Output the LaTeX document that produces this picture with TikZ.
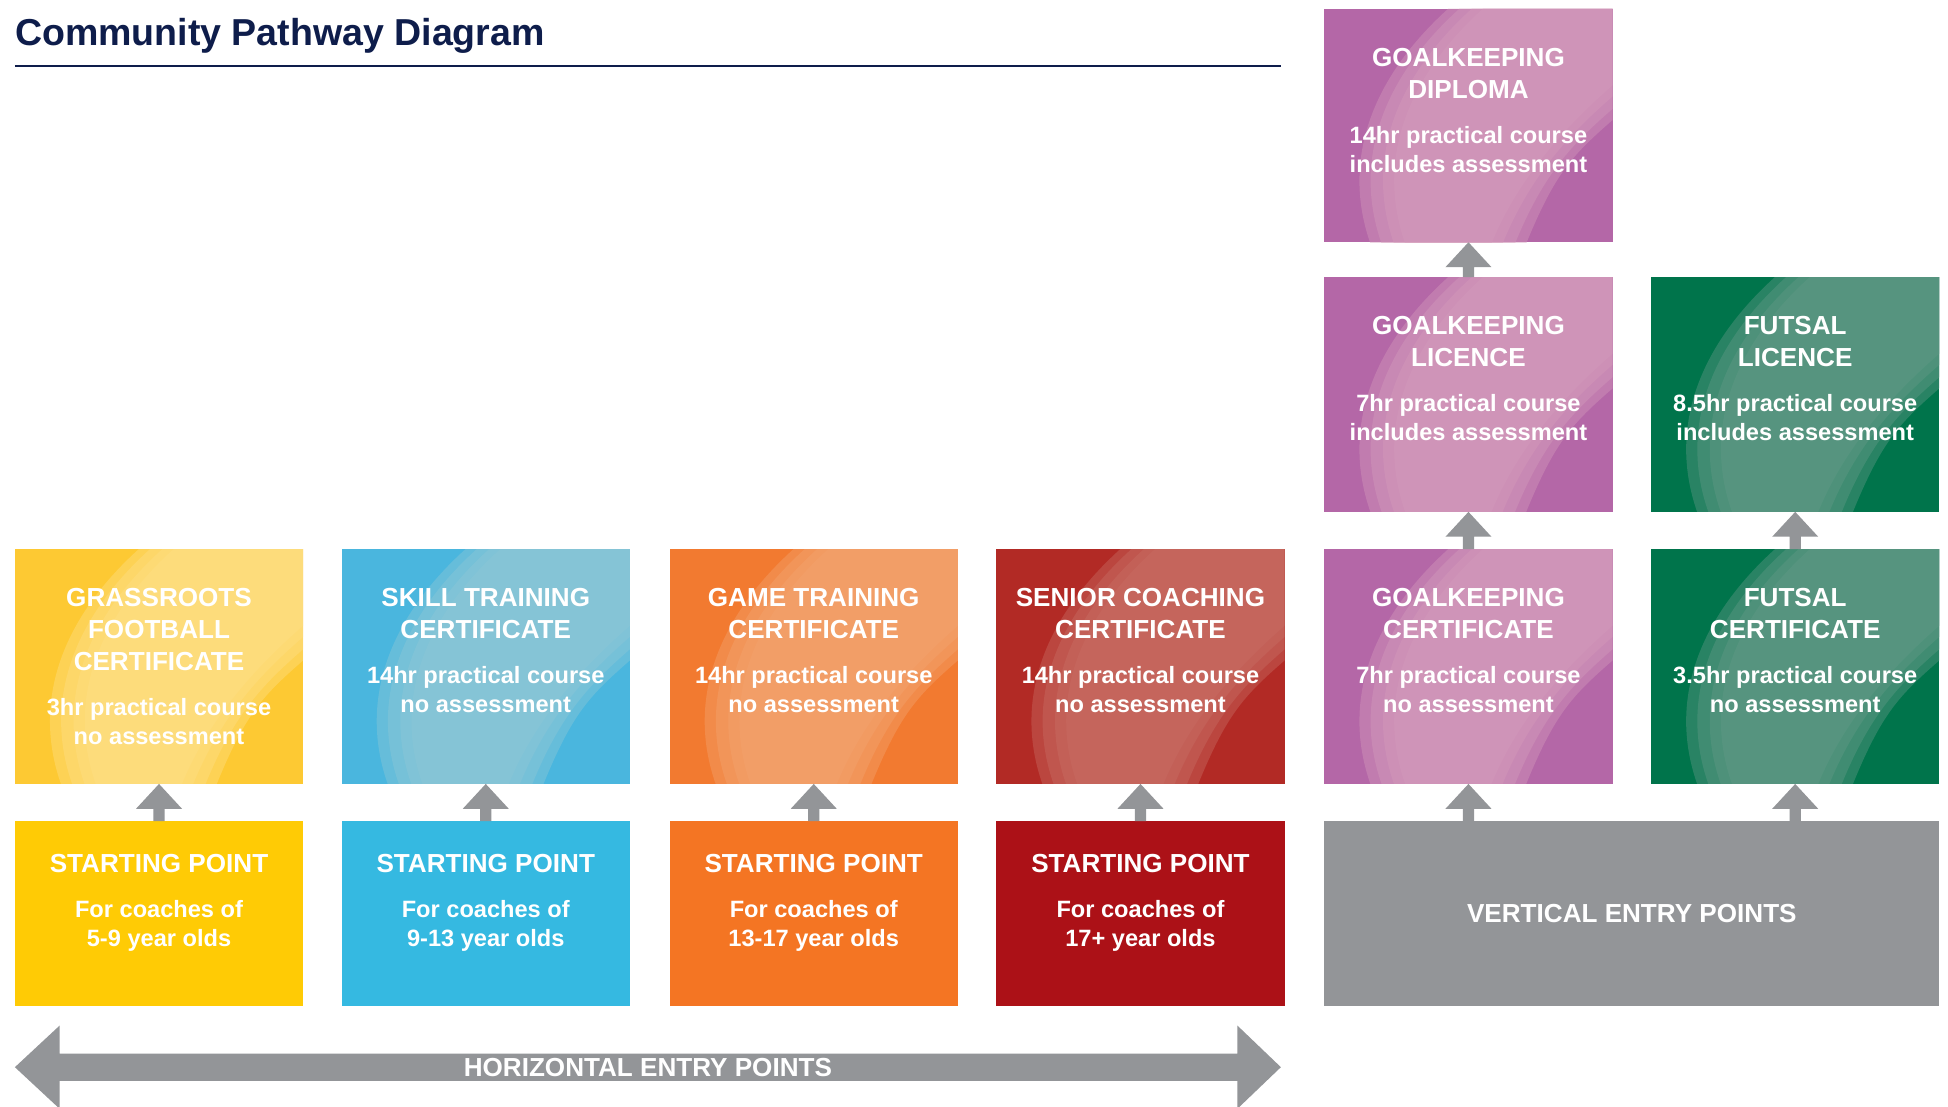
\documentclass[tikz,border=0pt]{standalone}
\usepackage{fontspec}
\setmainfont{Liberation Sans}
\usetikzlibrary{calc}
\definecolor{navy}{HTML}{0E1D4B}
\definecolor{agray}{HTML}{939598}
\definecolor{yl}{HTML}{FFCB05}
\definecolor{ylc}{HTML}{FDC933}
\definecolor{ylL}{HTML}{FFDF85}
\definecolor{bl}{HTML}{35B9E1}
\definecolor{blc}{HTML}{4AB6DE}
\definecolor{blL}{HTML}{8EC7D6}
\definecolor{orx}{HTML}{F47523}
\definecolor{orc}{HTML}{F27A30}
\definecolor{orL}{HTML}{F4A470}
\definecolor{rdx}{HTML}{AC1117}
\definecolor{rdc}{HTML}{B22A25}
\definecolor{rdL}{HTML}{C86E65}
\definecolor{pu}{HTML}{B467A7}
\definecolor{puL}{HTML}{D49BBB}
\definecolor{grn}{HTML}{00744B}
\definecolor{grL}{HTML}{629A87}
\newcommand\swpiece[3]{% node, colour, shift of the soft edge
  \fill[#2,opacity=0.42] ($(#1.north west)+(0.49*232+#3,0)$) -- (#1.north east)
    -- ($(#1.north west)+(232,0.40*189+#3)$)
    .. controls ($(#1.north west)+(0.86*232,0.55*189+#3)$) and ($(#1.north west)+(0.74*232+#3,0.7*189)$) .. ($(#1.north west)+(0.64*232+#3,189)$)
    -- ($(#1.north west)+(0.22*232+#3,189)$)
    .. controls ($(#1.north west)+(0.12*232+#3,0.65*189)$) and ($(#1.north west)+(0.22*232+#3,0.3*189)$) .. ($(#1.north west)+(0.49*232+#3,0)$) -- cycle;}
\newcommand\swoosh[2]{%
  \begin{scope}
  \clip (#1.north west) rectangle (#1.south east);
  \swpiece{#1}{#2}{-14}
  \swpiece{#1}{#2}{-5}
  \swpiece{#1}{#2}{5}
  \swpiece{#1}{#2}{14}
  \end{scope}}
\newcommand\uparr[2]{%
  \fill[agray] ($(#1)+(-4.5,0)$) -- ($(#2)+(-4.5,20)$) -- ($(#2)+(-18.5,20)$) -- (#2)
    -- ($(#2)+(18.5,20)$) -- ($(#2)+(4.5,20)$) -- ($(#1)+(4.5,0)$) -- cycle;}
\begin{document}
\begin{tikzpicture}[x=1pt,y=-1pt,
  box/.style={minimum width=232pt,minimum height=189pt,inner sep=0pt,outer sep=0pt,anchor=north west,draw=none},
  cert/.style={box,fill=#1},
  startbox/.style={box,minimum height=149pt,fill=#1},
  ttl/.style={text=white,font=\fontsize{21}{25.6}\selectfont\bfseries,align=center,inner sep=0pt,anchor=north},
  subtxt/.style={text=white,font=\fontsize{19}{23.5}\selectfont\bfseries,align=center,inner sep=0pt,anchor=north}]
\useasboundingbox[fill=white] (0,0) rectangle (1568,891);

% title
\node[anchor=base west,inner sep=0pt,text=navy,font=\fontsize{30.2}{36}\selectfont\bfseries] (title) at (12,37) {Community Pathway Diagram};
\draw[navy,line width=2pt] (12,53) -- (1031,53);

% certificate boxes
\node[cert=ylc] (gf) at (12,442) {};
\node[cert=blc] (st) at (275,442) {};
\node[cert=orc] (gt) at (539,442) {};
\node[cert=rdc] (sc) at (802,442) {};
\node[cert=pu] (gkc) at (1066,442) {};
\node[cert=grn] (fc) at (1329,442) {};
\node[cert=pu] (gkl) at (1066,223) {};
\node[cert=grn] (fl) at (1329,223) {};
\node[cert=pu,minimum height=188pt] (gkd) at (1066,7) {};
\swoosh{gf}{ylL}
\swoosh{st}{blL}
\swoosh{gt}{orL}
\swoosh{sc}{rdL}
\swoosh{gkc}{puL}
\swoosh{fc}{grL}
\swoosh{gkl}{puL}
\swoosh{fl}{grL}
\swoosh{gkd}{puL}

% starting points
\node[startbox=yl] (sp1) at (12,661) {};
\node[startbox=bl] (sp2) at (275,661) {};
\node[startbox=orx] (sp3) at (539,661) {};
\node[startbox=rdx] (sp4) at (802,661) {};
\node[startbox=agray,minimum width=495pt] (ve) at (1066,661) {};

% texts in certificate boxes
\node[ttl] (gf-t) at ($(gf.north)+(0,31.5)$) {GRASSROOTS\\FOOTBALL\\CERTIFICATE};
\node[subtxt] (gf-s) at ($(gf-t.south)+(0,22)$) {3hr practical course\\no assessment};
\node[ttl] (st-t) at ($(st.north)+(0,31.5)$) {SKILL TRAINING\\CERTIFICATE};
\node[subtxt] (st-s) at ($(st-t.south)+(0,22)$) {14hr practical course\\no assessment};
\node[ttl] (gt-t) at ($(gt.north)+(0,31.5)$) {GAME TRAINING\\CERTIFICATE};
\node[subtxt] (gt-s) at ($(gt-t.south)+(0,22)$) {14hr practical course\\no assessment};
\node[ttl] (sc-t) at ($(sc.north)+(0,31.5)$) {SENIOR COACHING\\CERTIFICATE};
\node[subtxt] (sc-s) at ($(sc-t.south)+(0,22)$) {14hr practical course\\no assessment};
\node[ttl] (gkc-t) at ($(gkc.north)+(0,31.5)$) {GOALKEEPING\\CERTIFICATE};
\node[subtxt] (gkc-s) at ($(gkc-t.south)+(0,22)$) {7hr practical course\\no assessment};
\node[ttl] (fc-t) at ($(fc.north)+(0,31.5)$) {FUTSAL\\CERTIFICATE};
\node[subtxt] (fc-s) at ($(fc-t.south)+(0,22)$) {3.5hr practical course\\no assessment};
\node[ttl] (gkl-t) at ($(gkl.north)+(0,31.5)$) {GOALKEEPING\\LICENCE};
\node[subtxt] (gkl-s) at ($(gkl-t.south)+(0,22)$) {7hr practical course\\includes assessment};
\node[ttl] (fl-t) at ($(fl.north)+(0,31.5)$) {FUTSAL\\LICENCE};
\node[subtxt] (fl-s) at ($(fl-t.south)+(0,22)$) {8.5hr practical course\\includes assessment};
\node[ttl] (gkd-t) at ($(gkd.north)+(0,31.5)$) {GOALKEEPING\\DIPLOMA};
\node[subtxt] (gkd-s) at ($(gkd-t.south)+(0,22)$) {14hr practical course\\includes assessment};

% texts in starting boxes
\node[ttl] (sp1-t) at ($(sp1.north)+(0,26.5)$) {STARTING POINT};
\node[subtxt] (sp1-s) at ($(sp1-t.south)+(0,22)$) {For coaches of\\5-9 year olds};
\node[ttl] (sp2-t) at ($(sp2.north)+(0,26.5)$) {STARTING POINT};
\node[subtxt] (sp2-s) at ($(sp2-t.south)+(0,22)$) {For coaches of\\9-13 year olds};
\node[ttl] (sp3-t) at ($(sp3.north)+(0,26.5)$) {STARTING POINT};
\node[subtxt] (sp3-s) at ($(sp3-t.south)+(0,22)$) {For coaches of\\13-17 year olds};
\node[ttl] (sp4-t) at ($(sp4.north)+(0,26.5)$) {STARTING POINT};
\node[subtxt] (sp4-s) at ($(sp4-t.south)+(0,22)$) {For coaches of\\17+ year olds};
\node[ttl,anchor=center] (ve-t) at (ve.center) {VERTICAL ENTRY POINTS};

% up arrows
\uparr{sp1.north}{gf.south}
\uparr{sp2.north}{st.south}
\uparr{sp3.north}{gt.south}
\uparr{sp4.north}{sc.south}
\coordinate (v5) at (gkc.south |- ve.north);
\coordinate (v6) at (fc.south |- ve.north);
\uparr{v5}{gkc.south}
\uparr{v6}{fc.south}
\uparr{gkc.north}{gkl.south}
\uparr{gkl.north}{gkd.south}
\uparr{fc.north}{fl.south}

% horizontal double arrow
\coordinate (hl) at (12,859);
\coordinate (hr) at (1031,859);
\fill[agray] (hl) -- ($(hl)+(36,-33.5)$) -- ($(hl)+(36,-11)$) -- ($(hr)+(-35,-11)$) -- ($(hr)+(-35,-33.5)$) -- (hr)
  -- ($(hr)+(-35,33.5)$) -- ($(hr)+(-35,11)$) -- ($(hl)+(36,11)$) -- ($(hl)+(36,33.5)$) -- cycle;
\node[ttl,anchor=center] (hep) at ($(hl)!0.5!(hr)$) {HORIZONTAL ENTRY POINTS};
\end{tikzpicture}
\end{document}
